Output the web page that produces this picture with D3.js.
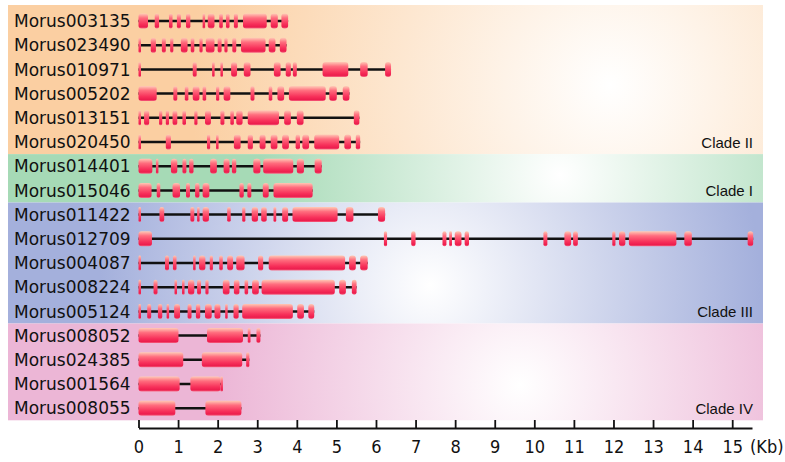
<!DOCTYPE html>
<html>
<head>
<meta charset="utf-8">
<script src="https://cdn.jsdelivr.net/npm/d3@7"></script>
<style>
  body { margin: 0; background: #fff; }
  .gene-label { font-family: "DejaVu Sans", sans-serif; font-size: 17px; fill: #111; }
  .clade-label { font-family: "Liberation Sans", Arial, sans-serif; font-size: 15px; fill: #111; }
  .x-axis text { font-family: "Liberation Sans Narrow", "DejaVu Sans Condensed", sans-serif; font-size: 18px; fill: #111; }
</style>
</head>
<body>
<div id="chart"></div>
<script>
const genes = ["Morus003135", "Morus023490", "Morus010971", "Morus005202", "Morus013151", "Morus020450",
  "Morus014401", "Morus015046",
  "Morus011422", "Morus012709", "Morus004087", "Morus008224", "Morus005124",
  "Morus008052", "Morus024385", "Morus001564", "Morus008055"];

const cladeNames = ["Clade II", "Clade I", "Clade III", "Clade IV"];
const cladeSizes = [6, 2, 5, 4];

// exon start/end in kb, per gene (same order as genes)
const exons = [
  [[0, 0.24], [0.41, 0.52], [0.77, 0.86], [0.97, 1.07], [1.2, 1.31], [1.62, 1.66], [1.75, 1.92], [2.04, 2.13], [2.21, 2.3], [2.41, 2.51], [2.64, 3.24], [3.34, 3.52], [3.61, 3.78]],
  [[0, 0.04], [0.31, 0.44], [0.59, 0.69], [0.8, 0.88], [1.07, 1.24], [1.32, 1.41], [1.54, 1.62], [1.7, 1.92], [2.0, 2.1], [2.17, 2.25], [2.37, 2.47], [2.59, 3.21], [3.29, 3.46], [3.57, 3.74]],
  [[0, 0.03], [1.37, 1.47], [1.86, 1.92], [2.07, 2.13], [2.34, 2.49], [2.66, 2.83], [3.42, 3.59], [3.72, 3.85], [3.9, 4.0], [4.65, 5.3], [5.6, 5.79], [6.23, 6.38]],
  [[0, 0.46], [0.88, 0.98], [1.17, 1.26], [1.37, 1.54], [1.62, 1.71], [1.96, 2.04], [2.15, 2.32], [2.83, 2.93], [3.29, 3.38], [3.51, 3.68], [3.8, 4.73], [4.82, 5.01], [5.16, 5.33]],
  [[0, 0.04], [0.14, 0.27], [0.52, 0.6], [0.69, 0.77], [0.86, 0.98], [1.11, 1.2], [1.41, 1.49], [1.68, 1.83], [2.07, 2.17], [2.32, 2.41], [2.47, 2.63], [2.76, 3.55], [3.68, 3.85], [4.0, 4.17], [5.44, 5.58]],
  [[0, 0.05], [0.69, 0.82], [1.73, 1.81], [1.96, 2.02], [2.41, 2.58], [2.76, 2.89], [3.06, 3.21], [3.34, 3.51], [3.63, 3.8], [3.97, 4.08], [4.14, 4.31], [4.44, 5.07], [5.2, 5.37], [5.49, 5.6]],
  [[0, 0.35], [0.44, 0.49], [0.82, 0.98], [1.11, 1.21], [1.28, 1.39], [1.81, 1.98], [2.15, 2.3], [2.36, 2.47], [2.9, 3.08], [3.15, 3.91], [4.0, 4.18], [4.45, 4.63]],
  [[0, 0.33], [0.46, 0.55], [0.86, 1.05], [1.2, 1.3], [1.43, 1.54], [1.62, 1.79], [2.55, 2.66], [2.75, 2.85], [3.14, 3.29], [3.41, 4.4]],
  [[0, 0.04], [0.53, 0.65], [1.31, 1.41], [1.48, 1.54], [1.62, 1.78], [2.24, 2.33], [2.62, 2.7], [2.86, 3.02], [3.1, 3.24], [3.41, 3.48], [3.63, 3.78], [3.89, 5.03], [5.24, 5.43], [6.05, 6.23]],
  [[0, 0.34], [6.2, 6.28], [6.89, 7.0], [7.68, 7.78], [7.85, 7.92], [7.99, 8.16], [8.24, 8.35], [10.23, 10.33], [10.76, 10.93], [10.98, 11.1], [11.97, 12.05], [12.14, 12.3], [12.39, 13.59], [13.79, 13.98], [15.39, 15.53]],
  [[0, 0.04], [0.67, 0.77], [0.87, 0.96], [1.38, 1.44], [1.53, 1.69], [1.8, 1.88], [2.04, 2.13], [2.24, 2.39], [2.47, 2.68], [3.02, 3.15], [3.29, 5.22], [5.32, 5.49], [5.6, 5.79]],
  [[0, 0.03], [0.38, 0.48], [0.91, 0.97], [1.1, 1.16], [1.25, 1.41], [1.48, 1.58], [1.69, 1.77], [2.13, 2.3], [2.41, 2.55], [2.68, 2.77], [2.87, 3.04], [3.11, 4.96], [5.07, 5.24], [5.39, 5.51]],
  [[0, 0.05], [0.22, 0.32], [0.49, 0.6], [0.71, 0.77], [0.9, 1.05], [1.24, 1.34], [1.45, 1.56], [1.68, 1.85], [1.92, 2.07], [2.19, 2.25], [2.4, 2.53], [2.62, 3.9], [4.01, 4.18], [4.29, 4.44]],
  [[0, 1.01], [1.73, 2.64], [2.76, 2.83], [2.98, 3.08]],
  [[0, 1.13], [1.6, 2.62], [2.72, 2.8]],
  [[0, 1.04], [1.31, 2.07], [2.07, 2.09]],
  [[0, 0.93], [1.69, 2.6]]
];

const tickValues = [0, 1, 2, 3, 4, 5, 6, 7, 8, 9, 10, 11, 12, 13, 14, 15];

// band colours (edge) and glow centre for each clade
const cladeColors = ["#fbcfa2", "#a6dab6", "#a4b0dc", "#ecb6d6"];
const cladeGlow = [[610, 85, 420], [560, 175, 300], [430, 285, 330], [520, 385, 300]];

const W = 785, H = 462;
const svg = d3.select("#chart").append("svg")
  .attr("width", W)
  .attr("height", H);

const x = d3.scaleLinear()
  .domain([0, 15.5])
  .range([138.5, 752]);

const y = d3.scaleBand()
  .domain(genes)
  .range([8.9, 420.3]);

const defs = svg.append("defs");

// clade background bands
let start = 0;
const clades = cladeNames.map((name, i) => {
  const members = genes.slice(start, start + cladeSizes[i]);
  start += cladeSizes[i];
  return { name: name, members: members, color: cladeColors[i], glow: cladeGlow[i] };
});

clades.forEach((c, i) => {
  const g = defs.append("radialGradient")
    .attr("id", "bg" + i)
    .attr("gradientUnits", "userSpaceOnUse")
    .attr("cx", c.glow[0])
    .attr("cy", c.glow[1])
    .attr("r", c.glow[2]);
  g.append("stop").attr("offset", "0%").attr("stop-color", "#ffffff");
  g.append("stop").attr("offset", "100%").attr("stop-color", c.color);
});

svg.append("g")
  .selectAll("rect")
  .data(clades)
  .join("rect")
  .attr("x", 8)
  .attr("width", 755)
  .attr("y", (d, i) => i === 0 ? 5 : y(d.members[0]))
  .attr("height", (d, i) => y(d.members[d.members.length - 1]) + y.bandwidth() - (i === 0 ? 5 : y(d.members[0])))
  .attr("fill", (d, i) => `url(#bg${i})`);

svg.append("g")
  .selectAll("text")
  .data(clades)
  .join("text")
  .attr("class", "clade-label")
  .attr("x", 753)
  .attr("y", d => y(d.members[d.members.length - 1]) + y.bandwidth() / 2 + 6)
  .attr("text-anchor", "end")
  .text(d => d.name);

// exon gradient
const eg = defs.append("linearGradient")
  .attr("id", "exon")
  .attr("x1", 0).attr("y1", 0).attr("x2", 0).attr("y2", 1);
eg.append("stop").attr("offset", "0%").attr("stop-color", "#ffcab6");
eg.append("stop").attr("offset", "30%").attr("stop-color", "#ff6d7e");
eg.append("stop").attr("offset", "70%").attr("stop-color", "#f7305a");
eg.append("stop").attr("offset", "90%").attr("stop-color", "#ec1d4d");
eg.append("stop").attr("offset", "100%").attr("stop-color", "#f66a86");

const exonH = 15;

const rows = svg.append("g")
  .selectAll("g")
  .data(genes)
  .join("g")
  .attr("transform", d => `translate(0,${y(d) + y.bandwidth() / 2})`);

rows.append("text")
  .attr("class", "gene-label")
  .attr("x", 14)
  .attr("dy", "0.36em")
  .text(d => d);

rows.append("line")
  .attr("x1", x(0))
  .attr("x2", (d, i) => x(d3.max(exons[i], e => e[1])))
  .attr("stroke", "#111")
  .attr("stroke-width", 2.5);

rows.selectAll("rect")
  .data((d, i) => exons[i])
  .join("rect")
  .attr("x", d => x(d[0]))
  .attr("y", -exonH / 2)
  .attr("width", d => Math.max(2.5, x(d[1]) - x(d[0])))
  .attr("height", exonH)
  .attr("rx", d => Math.min(3, Math.max(2.5, x(d[1]) - x(d[0])) / 2))
  .attr("fill", "url(#exon)");

// axis
const xAxis = d3.axisBottom(x)
  .tickValues(tickValues)
  .tickSize(-8)
  .tickSizeOuter(0)
  .tickPadding(8);

const ax = svg.append("g")
  .attr("class", "x-axis")
  .attr("transform", "translate(0,428)")
  .call(xAxis);

ax.select(".domain").attr("stroke", "#111").attr("stroke-width", 2);
ax.selectAll(".tick line").attr("stroke", "#111").attr("stroke-width", 1.8);
ax.selectAll(".tick text").attr("dy", "0.95em");

ax.append("text")
  .attr("x", 750)
  .attr("y", 8)
  .attr("dy", "0.95em")
  .attr("text-anchor", "start")
  .text("(Kb)");
</script>
</body>
</html>
